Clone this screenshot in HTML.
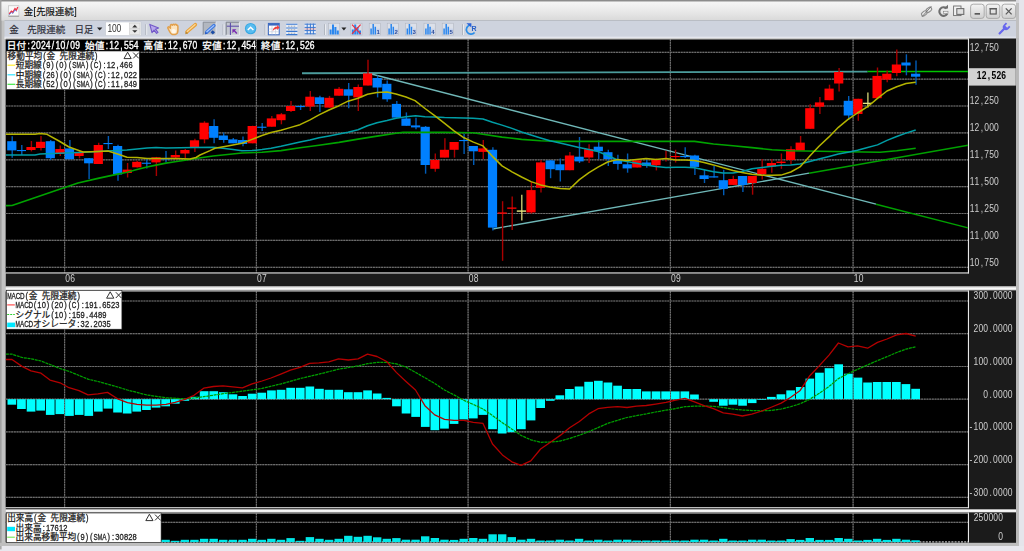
<!DOCTYPE html>
<html><head><meta charset="utf-8"><title>chart</title>
<style>html,body{margin:0;padding:0;background:#e5e5eb;overflow:hidden}svg{display:block}text{font-family:"Liberation Sans","Noto Sans CJK JP",sans-serif}</style>
</head><body>
<svg width="1024" height="551" viewBox="0 0 1024 551">
<defs>
<filter id="fx" x="0" y="0" width="1024" height="551" filterUnits="userSpaceOnUse"><feOffset dx="0" dy="0"/></filter>
<linearGradient id="gt" x1="0" y1="0" x2="0" y2="1"><stop offset="0" stop-color="#f6f6f6"/><stop offset="0.5" stop-color="#e9e9e9"/><stop offset="1" stop-color="#d9d9d9"/></linearGradient>
<linearGradient id="gb" x1="0" y1="0" x2="0" y2="1"><stop offset="0" stop-color="#f4f4f4"/><stop offset="1" stop-color="#cfcfcf"/></linearGradient>
<linearGradient id="gs" x1="0" y1="0" x2="0" y2="1"><stop offset="0" stop-color="#a8a8a8"/><stop offset="0.45" stop-color="#ffffff"/><stop offset="1" stop-color="#c8c8c8"/></linearGradient>
<linearGradient id="gs2" x1="0" y1="0" x2="0" y2="1"><stop offset="0" stop-color="#e0e0e0"/><stop offset="0.5" stop-color="#ffffff"/><stop offset="1" stop-color="#d0d0d0"/></linearGradient>
</defs>
<rect x="0" y="0" width="1024" height="551" fill="#e5e5eb"/>
<rect x="0" y="0" width="1019" height="546.5" fill="#c2c2c2"/>
<rect x="0" y="0" width="1019" height="1.6" fill="#8c8c8c"/>
<rect x="0" y="0" width="1.6" height="546" fill="#a0a0a0"/>
<rect x="1016" y="0" width="3" height="4" fill="#dcdce0"/><rect x="1016" y="3" width="3" height="543" fill="#c0c0c0"/><rect x="1016" y="38" width="2.8" height="505" fill="#b8b8b8"/>
<rect x="0" y="542.8" width="1019" height="3.2" fill="#bebebe"/>
<rect x="0" y="546" width="1024" height="5" fill="#e8e8ee"/>
<rect x="0" y="546" width="1.6" height="3.4" fill="#a8a8a8"/>
<rect x="1.5" y="1.6" width="1014.5" height="19" fill="url(#gt)"/>
<rect x="4.5" y="20.4" width="1011.5" height="17.8" fill="#ced3de"/>
<rect x="4.5" y="20.2" width="1011.5" height="0.8" fill="#b4b8c0"/>
<rect x="4.5" y="36.6" width="1011.5" height="1.2" fill="#e4e7ee"/>
<rect x="4.5" y="37.8" width="964" height="1.2" fill="#f4f4f4"/>
<rect x="5.8" y="38.6" width="1010.2" height="247.8" fill="#1b1b1b"/>
<rect x="5.8" y="39.3" width="962.7" height="233.5" fill="#000"/>
<rect x="5.8" y="286.2" width="1010.2" height="4.4" fill="url(#gs)"/>
<rect x="5.8" y="290.4" width="1010.2" height="219.2" fill="#1b1b1b"/>
<rect x="5.8" y="291.3" width="962.7" height="216.4" fill="#000"/>
<rect x="5.8" y="509.4" width="1010.2" height="3.2" fill="url(#gs2)"/>
<rect x="5.8" y="512.4" width="1010.2" height="30.4" fill="#1b1b1b"/>
<rect x="5.8" y="513.4" width="962.7" height="28.6" fill="#000"/>
<line x1="5.8" x2="968" y1="52.3" y2="52.3" stroke="#2c2c2c" stroke-width="1.1"/>
<line x1="5.8" x2="968" y1="52.3" y2="52.3" stroke="#6c6c6c" stroke-width="1.2" stroke-dasharray="1.9 0.8"/>
<line x1="5.8" x2="968" y1="79.2" y2="79.2" stroke="#2c2c2c" stroke-width="1.1"/>
<line x1="5.8" x2="968" y1="79.2" y2="79.2" stroke="#6c6c6c" stroke-width="1.2" stroke-dasharray="1.9 0.8"/>
<line x1="5.8" x2="968" y1="106.0" y2="106.0" stroke="#2c2c2c" stroke-width="1.1"/>
<line x1="5.8" x2="968" y1="106.0" y2="106.0" stroke="#6c6c6c" stroke-width="1.2" stroke-dasharray="1.9 0.8"/>
<line x1="5.8" x2="968" y1="132.9" y2="132.9" stroke="#2c2c2c" stroke-width="1.1"/>
<line x1="5.8" x2="968" y1="132.9" y2="132.9" stroke="#6c6c6c" stroke-width="1.2" stroke-dasharray="1.9 0.8"/>
<line x1="5.8" x2="968" y1="159.8" y2="159.8" stroke="#2c2c2c" stroke-width="1.1"/>
<line x1="5.8" x2="968" y1="159.8" y2="159.8" stroke="#6c6c6c" stroke-width="1.2" stroke-dasharray="1.9 0.8"/>
<line x1="5.8" x2="968" y1="186.6" y2="186.6" stroke="#2c2c2c" stroke-width="1.1"/>
<line x1="5.8" x2="968" y1="186.6" y2="186.6" stroke="#6c6c6c" stroke-width="1.2" stroke-dasharray="1.9 0.8"/>
<line x1="5.8" x2="968" y1="213.5" y2="213.5" stroke="#2c2c2c" stroke-width="1.1"/>
<line x1="5.8" x2="968" y1="213.5" y2="213.5" stroke="#6c6c6c" stroke-width="1.2" stroke-dasharray="1.9 0.8"/>
<line x1="5.8" x2="968" y1="240.4" y2="240.4" stroke="#2c2c2c" stroke-width="1.1"/>
<line x1="5.8" x2="968" y1="240.4" y2="240.4" stroke="#6c6c6c" stroke-width="1.2" stroke-dasharray="1.9 0.8"/>
<line x1="5.8" x2="968" y1="267.3" y2="267.3" stroke="#2c2c2c" stroke-width="1.1"/>
<line x1="5.8" x2="968" y1="267.3" y2="267.3" stroke="#6c6c6c" stroke-width="1.2" stroke-dasharray="1.9 0.8"/>
<line x1="64.6" x2="64.6" y1="39.5" y2="272.5" stroke="#2c2c2c" stroke-width="1.1"/>
<line x1="64.6" x2="64.6" y1="39.5" y2="272.5" stroke="#6c6c6c" stroke-width="1.2" stroke-dasharray="1.8 0.7"/>
<line x1="64.6" x2="64.6" y1="291.5" y2="507.5" stroke="#2c2c2c" stroke-width="1.1"/>
<line x1="64.6" x2="64.6" y1="291.5" y2="507.5" stroke="#6c6c6c" stroke-width="1.2" stroke-dasharray="1.8 0.7"/>
<line x1="64.6" x2="64.6" y1="513.5" y2="542.0" stroke="#2c2c2c" stroke-width="1.1"/>
<line x1="64.6" x2="64.6" y1="513.5" y2="542.0" stroke="#6c6c6c" stroke-width="1.2" stroke-dasharray="1.8 0.7"/>
<line x1="256.4" x2="256.4" y1="39.5" y2="272.5" stroke="#2c2c2c" stroke-width="1.1"/>
<line x1="256.4" x2="256.4" y1="39.5" y2="272.5" stroke="#6c6c6c" stroke-width="1.2" stroke-dasharray="1.8 0.7"/>
<line x1="256.4" x2="256.4" y1="291.5" y2="507.5" stroke="#2c2c2c" stroke-width="1.1"/>
<line x1="256.4" x2="256.4" y1="291.5" y2="507.5" stroke="#6c6c6c" stroke-width="1.2" stroke-dasharray="1.8 0.7"/>
<line x1="256.4" x2="256.4" y1="513.5" y2="542.0" stroke="#2c2c2c" stroke-width="1.1"/>
<line x1="256.4" x2="256.4" y1="513.5" y2="542.0" stroke="#6c6c6c" stroke-width="1.2" stroke-dasharray="1.8 0.7"/>
<line x1="468.1" x2="468.1" y1="39.5" y2="272.5" stroke="#2c2c2c" stroke-width="1.1"/>
<line x1="468.1" x2="468.1" y1="39.5" y2="272.5" stroke="#6c6c6c" stroke-width="1.2" stroke-dasharray="1.8 0.7"/>
<line x1="468.1" x2="468.1" y1="291.5" y2="507.5" stroke="#2c2c2c" stroke-width="1.1"/>
<line x1="468.1" x2="468.1" y1="291.5" y2="507.5" stroke="#6c6c6c" stroke-width="1.2" stroke-dasharray="1.8 0.7"/>
<line x1="468.1" x2="468.1" y1="513.5" y2="542.0" stroke="#2c2c2c" stroke-width="1.1"/>
<line x1="468.1" x2="468.1" y1="513.5" y2="542.0" stroke="#6c6c6c" stroke-width="1.2" stroke-dasharray="1.8 0.7"/>
<line x1="670.4" x2="670.4" y1="39.5" y2="272.5" stroke="#2c2c2c" stroke-width="1.1"/>
<line x1="670.4" x2="670.4" y1="39.5" y2="272.5" stroke="#6c6c6c" stroke-width="1.2" stroke-dasharray="1.8 0.7"/>
<line x1="670.4" x2="670.4" y1="291.5" y2="507.5" stroke="#2c2c2c" stroke-width="1.1"/>
<line x1="670.4" x2="670.4" y1="291.5" y2="507.5" stroke="#6c6c6c" stroke-width="1.2" stroke-dasharray="1.8 0.7"/>
<line x1="670.4" x2="670.4" y1="513.5" y2="542.0" stroke="#2c2c2c" stroke-width="1.1"/>
<line x1="670.4" x2="670.4" y1="513.5" y2="542.0" stroke="#6c6c6c" stroke-width="1.2" stroke-dasharray="1.8 0.7"/>
<line x1="853.1" x2="853.1" y1="39.5" y2="272.5" stroke="#2c2c2c" stroke-width="1.1"/>
<line x1="853.1" x2="853.1" y1="39.5" y2="272.5" stroke="#6c6c6c" stroke-width="1.2" stroke-dasharray="1.8 0.7"/>
<line x1="853.1" x2="853.1" y1="291.5" y2="507.5" stroke="#2c2c2c" stroke-width="1.1"/>
<line x1="853.1" x2="853.1" y1="291.5" y2="507.5" stroke="#6c6c6c" stroke-width="1.2" stroke-dasharray="1.8 0.7"/>
<line x1="853.1" x2="853.1" y1="513.5" y2="542.0" stroke="#2c2c2c" stroke-width="1.1"/>
<line x1="853.1" x2="853.1" y1="513.5" y2="542.0" stroke="#6c6c6c" stroke-width="1.2" stroke-dasharray="1.8 0.7"/>
<line x1="5.8" x2="968" y1="301.0" y2="301.0" stroke="#2c2c2c" stroke-width="1.1"/>
<line x1="5.8" x2="968" y1="301.0" y2="301.0" stroke="#6c6c6c" stroke-width="1.2" stroke-dasharray="1.9 0.8"/>
<line x1="5.8" x2="968" y1="333.7" y2="333.7" stroke="#2c2c2c" stroke-width="1.1"/>
<line x1="5.8" x2="968" y1="333.7" y2="333.7" stroke="#6c6c6c" stroke-width="1.2" stroke-dasharray="1.9 0.8"/>
<line x1="5.8" x2="968" y1="366.5" y2="366.5" stroke="#2c2c2c" stroke-width="1.1"/>
<line x1="5.8" x2="968" y1="366.5" y2="366.5" stroke="#6c6c6c" stroke-width="1.2" stroke-dasharray="1.9 0.8"/>
<line x1="5.8" x2="968" y1="399.2" y2="399.2" stroke="#2c2c2c" stroke-width="1.1"/>
<line x1="5.8" x2="968" y1="399.2" y2="399.2" stroke="#6c6c6c" stroke-width="1.2" stroke-dasharray="1.9 0.8"/>
<line x1="5.8" x2="968" y1="431.9" y2="431.9" stroke="#2c2c2c" stroke-width="1.1"/>
<line x1="5.8" x2="968" y1="431.9" y2="431.9" stroke="#6c6c6c" stroke-width="1.2" stroke-dasharray="1.9 0.8"/>
<line x1="5.8" x2="968" y1="464.6" y2="464.6" stroke="#2c2c2c" stroke-width="1.1"/>
<line x1="5.8" x2="968" y1="464.6" y2="464.6" stroke="#6c6c6c" stroke-width="1.2" stroke-dasharray="1.9 0.8"/>
<line x1="5.8" x2="968" y1="497.4" y2="497.4" stroke="#2c2c2c" stroke-width="1.1"/>
<line x1="5.8" x2="968" y1="497.4" y2="497.4" stroke="#6c6c6c" stroke-width="1.2" stroke-dasharray="1.9 0.8"/>
<line x1="5.8" x2="968" y1="522.4" y2="522.4" stroke="#2c2c2c" stroke-width="1.1"/>
<line x1="5.8" x2="968" y1="522.4" y2="522.4" stroke="#6c6c6c" stroke-width="1.2" stroke-dasharray="1.9 0.8"/>
<rect x="5.5" y="38.4" width="963.5" height="1" fill="#e8e8e8"/>
<rect x="967.9" y="38.4" width="1.1" height="235" fill="#e8e8e8"/>
<rect x="5.5" y="272.4" width="963.5" height="1.1" fill="#e8e8e8"/>
<rect x="5.5" y="290.5" width="963.5" height="1" fill="#d0d0d0"/>
<rect x="967.9" y="290.5" width="1.1" height="217.6" fill="#e8e8e8"/>
<rect x="5.5" y="507.2" width="963.5" height="1" fill="#e8e8e8"/>
<rect x="967.9" y="512.6" width="1.1" height="30" fill="#e8e8e8"/>
<rect x="5.5" y="512.6" width="963.5" height="0.9" fill="#d0d0d0"/>
<line x1="161" x2="968" y1="541.9" y2="541.9" stroke="#e0e0e0" stroke-width="1" stroke-dasharray="2 1.2"/>
<line x1="302" x2="867.6" y1="73.2" y2="71.6" stroke="#4c9c9c" stroke-width="1.9"/>
<line x1="867.6" x2="968" y1="71.5" y2="71.5" stroke="#00c400" stroke-width="1.5"/>
<line x1="367.5" y1="73" x2="876" y2="204.2" stroke="#70b8b8" stroke-width="1.3"/>
<line x1="876" y1="204.2" x2="968" y2="227.9" stroke="#00a000" stroke-width="1.4"/>
<line x1="492.5" y1="229" x2="809" y2="173.2" stroke="#70b8b8" stroke-width="1.3"/>
<line x1="809" y1="173.2" x2="968" y2="145.2" stroke="#00a000" stroke-width="1.4"/>
<line x1="12.2" x2="12.2" y1="136.3" y2="157.8" stroke="#005cb8" stroke-width="1.4"/>
<rect x="7.2" y="141.2" width="9.2" height="9.2" fill="#0080ff"/>
<line x1="21.8" x2="21.8" y1="145.0" y2="155.0" stroke="#005cb8" stroke-width="1.4"/>
<rect x="16.8" y="150.0" width="9.2" height="1.1" fill="#0080ff"/>
<line x1="31.4" x2="31.4" y1="141.0" y2="151.4" stroke="#a80000" stroke-width="1.4"/>
<rect x="26.4" y="147.0" width="9.2" height="3.0" fill="#ff0000"/>
<line x1="41.0" x2="41.0" y1="135.9" y2="150.6" stroke="#a80000" stroke-width="1.4"/>
<rect x="36.0" y="141.8" width="9.2" height="6.2" fill="#ff0000"/>
<line x1="50.7" x2="50.7" y1="140.0" y2="160.0" stroke="#005cb8" stroke-width="1.4"/>
<rect x="45.7" y="141.2" width="9.2" height="17.0" fill="#0080ff"/>
<line x1="60.3" x2="60.3" y1="145.5" y2="156.0" stroke="#a80000" stroke-width="1.4"/>
<rect x="55.3" y="149.0" width="9.2" height="5.0" fill="#ff0000"/>
<line x1="69.9" x2="69.9" y1="140.0" y2="159.2" stroke="#005cb8" stroke-width="1.4"/>
<rect x="64.9" y="148.4" width="9.2" height="10.8" fill="#0080ff"/>
<line x1="79.5" x2="79.5" y1="150.0" y2="158.4" stroke="#a80000" stroke-width="1.4"/>
<rect x="74.5" y="152.5" width="9.2" height="3.5" fill="#ff0000"/>
<line x1="89.1" x2="89.1" y1="158.0" y2="179.0" stroke="#005cb8" stroke-width="1.4"/>
<rect x="84.1" y="158.2" width="9.2" height="5.1" fill="#0080ff"/>
<line x1="98.7" x2="98.7" y1="142.7" y2="164.0" stroke="#a80000" stroke-width="1.4"/>
<rect x="93.7" y="145.0" width="9.2" height="19.0" fill="#ff0000"/>
<line x1="108.4" x2="108.4" y1="136.0" y2="149.0" stroke="#005cb8" stroke-width="1.4"/>
<rect x="103.4" y="143.0" width="9.2" height="1.1" fill="#0080ff"/>
<line x1="118.0" x2="118.0" y1="144.7" y2="180.8" stroke="#005cb8" stroke-width="1.4"/>
<rect x="113.0" y="146.0" width="9.2" height="28.5" fill="#0080ff"/>
<line x1="127.6" x2="127.6" y1="163.0" y2="177.5" stroke="#a80000" stroke-width="1.4"/>
<rect x="122.6" y="169.6" width="9.2" height="3.4" fill="#ff0000"/>
<line x1="137.2" x2="137.2" y1="160.8" y2="167.6" stroke="#a80000" stroke-width="1.4"/>
<rect x="132.2" y="161.8" width="9.2" height="5.5" fill="#ff0000"/>
<line x1="146.8" x2="146.8" y1="158.4" y2="168.6" stroke="#005cb8" stroke-width="1.4"/>
<rect x="141.8" y="162.7" width="9.2" height="1.1" fill="#0080ff"/>
<line x1="156.4" x2="156.4" y1="156.9" y2="176.0" stroke="#a80000" stroke-width="1.4"/>
<rect x="151.4" y="157.3" width="9.2" height="5.1" fill="#ff0000"/>
<line x1="166.0" x2="166.0" y1="151.0" y2="162.4" stroke="#005cb8" stroke-width="1.4"/>
<rect x="161.0" y="158.4" width="9.2" height="1.1" fill="#0080ff"/>
<line x1="175.7" x2="175.7" y1="150.6" y2="159.8" stroke="#a80000" stroke-width="1.4"/>
<rect x="170.7" y="155.0" width="9.2" height="2.5" fill="#ff0000"/>
<line x1="185.3" x2="185.3" y1="149.0" y2="158.8" stroke="#a80000" stroke-width="1.4"/>
<rect x="180.3" y="150.0" width="9.2" height="3.5" fill="#ff0000"/>
<line x1="194.9" x2="194.9" y1="138.8" y2="152.0" stroke="#a80000" stroke-width="1.4"/>
<rect x="189.9" y="140.3" width="9.2" height="7.7" fill="#ff0000"/>
<line x1="204.5" x2="204.5" y1="121.2" y2="143.3" stroke="#a80000" stroke-width="1.4"/>
<rect x="199.5" y="122.7" width="9.2" height="16.7" fill="#ff0000"/>
<line x1="214.1" x2="214.1" y1="119.2" y2="143.3" stroke="#005cb8" stroke-width="1.4"/>
<rect x="209.1" y="126.0" width="9.2" height="11.8" fill="#0080ff"/>
<line x1="223.7" x2="223.7" y1="132.5" y2="142.7" stroke="#005cb8" stroke-width="1.4"/>
<rect x="218.7" y="135.5" width="9.2" height="4.5" fill="#0080ff"/>
<line x1="233.3" x2="233.3" y1="138.0" y2="143.3" stroke="#005cb8" stroke-width="1.4"/>
<rect x="228.3" y="139.4" width="9.2" height="3.9" fill="#0080ff"/>
<line x1="243.0" x2="243.0" y1="136.5" y2="146.3" stroke="#005cb8" stroke-width="1.4"/>
<rect x="238.0" y="140.0" width="9.2" height="4.0" fill="#0080ff"/>
<line x1="252.6" x2="252.6" y1="125.7" y2="143.3" stroke="#a80000" stroke-width="1.4"/>
<rect x="247.6" y="126.0" width="9.2" height="17.3" fill="#ff0000"/>
<line x1="262.2" x2="262.2" y1="123.0" y2="131.0" stroke="#005cb8" stroke-width="1.4"/>
<rect x="257.2" y="126.7" width="9.2" height="1.1" fill="#0080ff"/>
<line x1="271.8" x2="271.8" y1="115.9" y2="126.7" stroke="#a80000" stroke-width="1.4"/>
<rect x="266.8" y="118.4" width="9.2" height="8.3" fill="#ff0000"/>
<line x1="281.4" x2="281.4" y1="113.0" y2="124.3" stroke="#a80000" stroke-width="1.4"/>
<rect x="276.4" y="114.3" width="9.2" height="5.9" fill="#ff0000"/>
<line x1="291.0" x2="291.0" y1="101.0" y2="112.0" stroke="#a80000" stroke-width="1.4"/>
<rect x="286.0" y="106.0" width="9.2" height="5.0" fill="#ff0000"/>
<line x1="300.6" x2="300.6" y1="104.7" y2="110.0" stroke="#005cb8" stroke-width="1.4"/>
<rect x="295.6" y="106.0" width="9.2" height="1.1" fill="#0080ff"/>
<line x1="310.3" x2="310.3" y1="91.0" y2="111.0" stroke="#a80000" stroke-width="1.4"/>
<rect x="305.3" y="96.7" width="9.2" height="9.8" fill="#ff0000"/>
<line x1="319.9" x2="319.9" y1="95.7" y2="112.0" stroke="#005cb8" stroke-width="1.4"/>
<rect x="314.9" y="97.3" width="9.2" height="6.7" fill="#0080ff"/>
<line x1="329.5" x2="329.5" y1="95.9" y2="107.6" stroke="#a80000" stroke-width="1.4"/>
<rect x="324.5" y="97.8" width="9.2" height="9.8" fill="#ff0000"/>
<line x1="339.1" x2="339.1" y1="87.0" y2="95.7" stroke="#a80000" stroke-width="1.4"/>
<rect x="334.1" y="88.8" width="9.2" height="6.9" fill="#ff0000"/>
<line x1="348.7" x2="348.7" y1="83.0" y2="108.3" stroke="#005cb8" stroke-width="1.4"/>
<rect x="343.7" y="89.3" width="9.2" height="6.4" fill="#0080ff"/>
<line x1="358.3" x2="358.3" y1="84.4" y2="110.9" stroke="#a80000" stroke-width="1.4"/>
<rect x="353.3" y="87.0" width="9.2" height="10.4" fill="#ff0000"/>
<line x1="368.0" x2="368.0" y1="59.8" y2="85.6" stroke="#a80000" stroke-width="1.4"/>
<rect x="363.0" y="73.4" width="9.2" height="12.1" fill="#ff0000"/>
<line x1="377.6" x2="377.6" y1="75.5" y2="97.4" stroke="#005cb8" stroke-width="1.4"/>
<rect x="372.6" y="78.0" width="9.2" height="9.5" fill="#0080ff"/>
<line x1="387.2" x2="387.2" y1="80.5" y2="101.8" stroke="#005cb8" stroke-width="1.4"/>
<rect x="382.2" y="83.8" width="9.2" height="15.5" fill="#0080ff"/>
<line x1="396.8" x2="396.8" y1="101.0" y2="117.6" stroke="#005cb8" stroke-width="1.4"/>
<rect x="391.8" y="103.9" width="9.2" height="13.7" fill="#0080ff"/>
<line x1="406.4" x2="406.4" y1="112.4" y2="125.8" stroke="#005cb8" stroke-width="1.4"/>
<rect x="401.4" y="118.5" width="9.2" height="7.3" fill="#0080ff"/>
<line x1="416.0" x2="416.0" y1="117.7" y2="129.3" stroke="#005cb8" stroke-width="1.4"/>
<rect x="411.0" y="125.4" width="9.2" height="2.0" fill="#0080ff"/>
<line x1="425.6" x2="425.6" y1="126.0" y2="173.7" stroke="#005cb8" stroke-width="1.4"/>
<rect x="420.6" y="126.8" width="9.2" height="38.2" fill="#0080ff"/>
<line x1="435.3" x2="435.3" y1="153.5" y2="171.8" stroke="#a80000" stroke-width="1.4"/>
<rect x="430.3" y="160.0" width="9.2" height="8.8" fill="#ff0000"/>
<line x1="444.9" x2="444.9" y1="138.3" y2="157.6" stroke="#a80000" stroke-width="1.4"/>
<rect x="439.9" y="149.8" width="9.2" height="7.8" fill="#ff0000"/>
<line x1="454.5" x2="454.5" y1="142.0" y2="157.6" stroke="#a80000" stroke-width="1.4"/>
<rect x="449.5" y="142.0" width="9.2" height="7.8" fill="#ff0000"/>
<line x1="464.1" x2="464.1" y1="134.0" y2="154.0" stroke="#005cb8" stroke-width="1.4"/>
<rect x="459.1" y="140.0" width="9.2" height="1.1" fill="#0080ff"/>
<line x1="473.7" x2="473.7" y1="146.0" y2="165.0" stroke="#005cb8" stroke-width="1.4"/>
<rect x="468.7" y="146.0" width="9.2" height="5.3" fill="#0080ff"/>
<line x1="483.3" x2="483.3" y1="139.9" y2="159.0" stroke="#a80000" stroke-width="1.4"/>
<rect x="478.3" y="148.4" width="9.2" height="3.5" fill="#ff0000"/>
<line x1="492.9" x2="492.9" y1="147.3" y2="230.6" stroke="#005cb8" stroke-width="1.4"/>
<rect x="487.9" y="149.8" width="9.2" height="77.8" fill="#0080ff"/>
<line x1="502.6" x2="502.6" y1="201.2" y2="260.8" stroke="#a80000" stroke-width="1.4"/>
<rect x="497.6" y="212.4" width="9.2" height="1.3" fill="#ff0000"/>
<line x1="512.2" x2="512.2" y1="196.5" y2="230.0" stroke="#a80000" stroke-width="1.4"/>
<rect x="507.2" y="207.5" width="9.2" height="1.3" fill="#ff0000"/>
<line x1="521.8" x2="521.8" y1="194.7" y2="220.6" stroke="#c8c870" stroke-width="1.4"/>
<rect x="516.8" y="210.4" width="9.2" height="1.4" fill="#e6e682"/>
<line x1="531.4" x2="531.4" y1="181.6" y2="213.6" stroke="#a80000" stroke-width="1.4"/>
<rect x="526.4" y="190.1" width="9.2" height="22.3" fill="#ff0000"/>
<line x1="541.0" x2="541.0" y1="160.0" y2="192.4" stroke="#a80000" stroke-width="1.4"/>
<rect x="536.0" y="162.4" width="9.2" height="25.4" fill="#ff0000"/>
<line x1="550.6" x2="550.6" y1="160.0" y2="178.2" stroke="#005cb8" stroke-width="1.4"/>
<rect x="545.6" y="160.4" width="9.2" height="8.8" fill="#0080ff"/>
<line x1="560.3" x2="560.3" y1="158.6" y2="181.6" stroke="#005cb8" stroke-width="1.4"/>
<rect x="555.3" y="164.3" width="9.2" height="5.9" fill="#0080ff"/>
<line x1="569.9" x2="569.9" y1="152.0" y2="170.2" stroke="#a80000" stroke-width="1.4"/>
<rect x="564.9" y="155.5" width="9.2" height="14.7" fill="#ff0000"/>
<line x1="579.5" x2="579.5" y1="137.0" y2="163.0" stroke="#005cb8" stroke-width="1.4"/>
<rect x="574.5" y="156.7" width="9.2" height="4.7" fill="#0080ff"/>
<line x1="589.1" x2="589.1" y1="144.3" y2="163.0" stroke="#a80000" stroke-width="1.4"/>
<rect x="584.1" y="149.2" width="9.2" height="8.3" fill="#ff0000"/>
<line x1="598.7" x2="598.7" y1="140.4" y2="159.0" stroke="#005cb8" stroke-width="1.4"/>
<rect x="593.7" y="146.7" width="9.2" height="4.5" fill="#0080ff"/>
<line x1="608.3" x2="608.3" y1="149.8" y2="165.9" stroke="#005cb8" stroke-width="1.4"/>
<rect x="603.3" y="152.2" width="9.2" height="6.8" fill="#0080ff"/>
<line x1="617.9" x2="617.9" y1="154.7" y2="169.8" stroke="#005cb8" stroke-width="1.4"/>
<rect x="612.9" y="160.0" width="9.2" height="3.9" fill="#0080ff"/>
<line x1="627.6" x2="627.6" y1="153.5" y2="172.7" stroke="#005cb8" stroke-width="1.4"/>
<rect x="622.6" y="164.3" width="9.2" height="4.1" fill="#0080ff"/>
<line x1="637.2" x2="637.2" y1="160.4" y2="167.5" stroke="#a80000" stroke-width="1.4"/>
<rect x="632.2" y="160.4" width="9.2" height="7.1" fill="#ff0000"/>
<line x1="646.8" x2="646.8" y1="160.0" y2="167.8" stroke="#005cb8" stroke-width="1.4"/>
<rect x="641.8" y="162.5" width="9.2" height="3.4" fill="#0080ff"/>
<line x1="656.4" x2="656.4" y1="158.6" y2="170.4" stroke="#a80000" stroke-width="1.4"/>
<rect x="651.4" y="160.0" width="9.2" height="5.3" fill="#ff0000"/>
<line x1="666.0" x2="666.0" y1="150.8" y2="161.4" stroke="#a80000" stroke-width="1.4"/>
<line x1="675.6" x2="675.6" y1="149.8" y2="162.5" stroke="#a80000" stroke-width="1.4"/>
<rect x="670.6" y="156.0" width="9.2" height="1.1" fill="#ff0000"/>
<line x1="685.2" x2="685.2" y1="147.3" y2="158.0" stroke="#005cb8" stroke-width="1.4"/>
<rect x="680.2" y="156.0" width="9.2" height="1.1" fill="#0080ff"/>
<line x1="694.9" x2="694.9" y1="154.7" y2="175.0" stroke="#005cb8" stroke-width="1.4"/>
<rect x="689.9" y="155.5" width="9.2" height="11.4" fill="#0080ff"/>
<line x1="704.5" x2="704.5" y1="169.8" y2="183.0" stroke="#005cb8" stroke-width="1.4"/>
<rect x="699.5" y="175.3" width="9.2" height="3.7" fill="#0080ff"/>
<line x1="714.1" x2="714.1" y1="165.9" y2="177.6" stroke="#005cb8" stroke-width="1.4"/>
<rect x="709.1" y="176.3" width="9.2" height="1.2" fill="#0080ff"/>
<line x1="723.7" x2="723.7" y1="169.8" y2="195.3" stroke="#005cb8" stroke-width="1.4"/>
<rect x="718.7" y="180.2" width="9.2" height="8.6" fill="#0080ff"/>
<line x1="733.3" x2="733.3" y1="175.7" y2="184.9" stroke="#a80000" stroke-width="1.4"/>
<rect x="728.3" y="179.0" width="9.2" height="5.9" fill="#ff0000"/>
<line x1="742.9" x2="742.9" y1="176.0" y2="192.0" stroke="#005cb8" stroke-width="1.4"/>
<rect x="737.9" y="176.0" width="9.2" height="9.0" fill="#0080ff"/>
<line x1="752.6" x2="752.6" y1="176.0" y2="194.7" stroke="#a80000" stroke-width="1.4"/>
<rect x="747.6" y="176.0" width="9.2" height="7.0" fill="#ff0000"/>
<line x1="762.2" x2="762.2" y1="159.0" y2="179.6" stroke="#a80000" stroke-width="1.4"/>
<rect x="757.2" y="168.8" width="9.2" height="5.5" fill="#ff0000"/>
<line x1="771.8" x2="771.8" y1="159.0" y2="172.7" stroke="#a80000" stroke-width="1.4"/>
<rect x="766.8" y="163.0" width="9.2" height="3.5" fill="#ff0000"/>
<line x1="781.4" x2="781.4" y1="153.5" y2="168.8" stroke="#a80000" stroke-width="1.4"/>
<rect x="776.4" y="161.6" width="9.2" height="1.4" fill="#ff0000"/>
<line x1="791.0" x2="791.0" y1="146.3" y2="164.5" stroke="#a80000" stroke-width="1.4"/>
<rect x="786.0" y="149.2" width="9.2" height="10.8" fill="#ff0000"/>
<line x1="800.6" x2="800.6" y1="136.0" y2="150.6" stroke="#a80000" stroke-width="1.4"/>
<rect x="795.6" y="142.6" width="9.2" height="8.0" fill="#ff0000"/>
<line x1="810.2" x2="810.2" y1="104.3" y2="128.8" stroke="#a80000" stroke-width="1.4"/>
<rect x="805.2" y="108.2" width="9.2" height="20.6" fill="#ff0000"/>
<line x1="819.9" x2="819.9" y1="96.9" y2="114.0" stroke="#a80000" stroke-width="1.4"/>
<rect x="814.9" y="102.4" width="9.2" height="4.3" fill="#ff0000"/>
<line x1="829.5" x2="829.5" y1="84.7" y2="100.2" stroke="#a80000" stroke-width="1.4"/>
<rect x="824.5" y="88.6" width="9.2" height="11.6" fill="#ff0000"/>
<line x1="839.1" x2="839.1" y1="68.0" y2="91.6" stroke="#a80000" stroke-width="1.4"/>
<rect x="834.1" y="72.0" width="9.2" height="11.5" fill="#ff0000"/>
<line x1="848.7" x2="848.7" y1="95.9" y2="120.0" stroke="#005cb8" stroke-width="1.4"/>
<rect x="843.7" y="100.8" width="9.2" height="14.7" fill="#0080ff"/>
<line x1="858.3" x2="858.3" y1="98.8" y2="120.8" stroke="#a80000" stroke-width="1.4"/>
<rect x="853.3" y="98.8" width="9.2" height="15.2" fill="#ff0000"/>
<line x1="867.9" x2="867.9" y1="92.5" y2="107.6" stroke="#c8c870" stroke-width="1.4"/>
<rect x="862.9" y="102.7" width="9.2" height="1.3" fill="#e6e682"/>
<line x1="877.5" x2="877.5" y1="67.5" y2="98.2" stroke="#a80000" stroke-width="1.4"/>
<rect x="872.5" y="75.9" width="9.2" height="22.3" fill="#ff0000"/>
<line x1="887.2" x2="887.2" y1="70.4" y2="82.2" stroke="#a80000" stroke-width="1.4"/>
<rect x="882.2" y="73.7" width="9.2" height="5.9" fill="#ff0000"/>
<line x1="896.8" x2="896.8" y1="49.4" y2="76.3" stroke="#a80000" stroke-width="1.4"/>
<rect x="891.8" y="64.5" width="9.2" height="8.5" fill="#ff0000"/>
<line x1="906.4" x2="906.4" y1="54.3" y2="75.3" stroke="#005cb8" stroke-width="1.4"/>
<rect x="901.4" y="62.5" width="9.2" height="3.0" fill="#0080ff"/>
<line x1="916.0" x2="916.0" y1="60.6" y2="84.7" stroke="#005cb8" stroke-width="1.4"/>
<rect x="911.0" y="73.7" width="9.2" height="3.0" fill="#0080ff"/>
<polyline fill="none" stroke="#00a400" stroke-width="1.6" stroke-linejoin="round" points="5.9,205.6 12.0,205.5 64.7,187.5 78.0,183.0 98.0,178.4 117.6,174.1 127.0,172.2 137.0,169.6 147.0,167.0 156.0,165.1 166.0,163.1 175.0,161.8 185.0,160.2 194.0,158.8 213.0,156.0 242.0,153.0 262.0,152.2 281.0,150.6 300.0,147.8 319.0,145.3 339.0,142.4 358.0,139.1 377.0,136.1 396.0,133.3 403.0,132.4 425.0,132.4 444.0,132.4 473.0,132.8 483.0,134.2 502.0,137.1 521.6,139.4 540.6,140.8 560.0,141.4 579.0,141.4 598.0,141.4 694.5,141.4 713.5,144.0 733.0,145.7 752.0,147.6 772.0,149.8 790.0,150.7 848.0,151.8 880.0,152.2 896.7,150.8 915.7,148.2" />
<polyline fill="none" stroke="#009ea6" stroke-width="1.5" stroke-linejoin="round" points="5.9,154.9 35.0,154.9 40.0,153.9 59.0,153.3 78.0,152.5 98.0,151.6 117.0,150.6 127.0,150.0 137.0,149.0 147.0,148.0 156.0,147.5 166.0,148.0 194.0,147.4 213.0,147.3 223.0,148.2 233.0,149.6 242.0,150.8 252.0,150.6 262.0,149.6 271.0,148.2 281.0,146.3 290.0,144.3 300.0,142.0 310.0,140.0 319.0,137.8 329.0,135.9 339.0,133.9 348.0,132.2 358.0,129.8 367.5,125.8 377.0,122.8 387.0,120.5 396.0,118.2 406.0,116.7 415.5,115.7 425.0,116.7 435.0,117.0 444.5,117.6 464.0,118.0 473.0,118.2 483.0,119.0 492.5,122.2 502.0,125.1 512.0,128.4 521.6,132.0 531.0,135.0 540.6,138.0 550.0,140.8 560.0,143.0 569.6,145.3 579.0,147.6 589.0,149.5 598.0,151.5 607.6,155.5 617.5,160.0 627.0,161.6 636.5,163.3 646.0,164.9 656.0,166.5 666.0,167.5 676.0,167.3 685.0,167.3 694.5,167.8 704.0,169.8 713.5,171.8 723.0,173.1 733.0,173.1 742.0,171.4 752.0,168.8 762.0,167.5 772.0,166.3 781.0,165.3 790.8,164.9 800.0,163.9 809.8,161.4 819.0,159.0 829.0,156.5 838.4,154.1 848.0,152.2 857.5,150.2 867.6,147.6 877.5,144.9 887.0,140.4 896.7,136.5 906.0,133.1 915.7,130.0" />
<polyline fill="none" stroke="#b4b400" stroke-width="1.5" stroke-linejoin="round" points="5.9,134.3 35.0,134.3 40.0,133.5 47.0,134.3 59.0,141.0 69.0,147.0 83.0,152.0 98.0,151.4 108.0,151.0 117.6,154.0 127.0,157.3 137.0,157.6 147.0,158.4 176.0,158.6 190.0,158.9 196.0,157.5 200.0,155.0 210.0,150.6 215.0,148.2 229.0,145.7 242.0,143.3 252.0,139.4 262.0,135.5 271.0,132.5 281.0,130.2 290.0,127.6 300.0,124.7 310.0,119.8 319.0,114.9 329.0,110.0 339.0,105.7 348.0,101.2 358.0,98.2 367.5,94.2 377.0,92.5 387.0,92.0 396.0,94.0 406.0,97.0 415.0,100.6 425.0,108.5 435.0,115.8 444.6,123.4 454.0,130.8 464.0,137.8 473.4,142.1 483.0,145.9 492.5,156.4 502.0,165.9 512.0,171.8 521.6,177.0 531.0,181.6 540.6,184.9 550.0,187.0 560.0,188.4 569.6,189.0 579.4,179.6 589.0,172.7 598.0,167.2 607.6,162.0 617.5,159.6 627.0,160.6 636.5,159.4 646.0,158.4 656.0,159.6 666.0,158.4 676.0,160.0 685.0,160.0 694.5,160.6 704.0,162.5 713.5,164.9 723.0,167.8 733.0,170.4 742.0,172.4 752.0,174.3 762.0,175.3 772.0,175.3 781.0,175.1 790.8,172.0 800.0,166.9 809.8,156.0 819.0,146.3 829.0,136.9 838.4,127.3 848.0,119.4 857.5,113.0 867.6,106.7 877.5,98.4 887.0,91.0 896.7,86.7 906.0,83.5 915.7,82.2" />
<rect x="7.5" y="399.2" width="8.7" height="5.5" fill="#00ffff"/>
<rect x="17.1" y="399.2" width="8.7" height="9.8" fill="#00ffff"/>
<rect x="26.7" y="399.2" width="8.7" height="12.4" fill="#00ffff"/>
<rect x="36.3" y="399.2" width="8.7" height="11.4" fill="#00ffff"/>
<rect x="45.9" y="399.2" width="8.7" height="15.7" fill="#00ffff"/>
<rect x="55.5" y="399.2" width="8.7" height="14.9" fill="#00ffff"/>
<rect x="65.1" y="399.2" width="8.7" height="16.7" fill="#00ffff"/>
<rect x="74.8" y="399.2" width="8.7" height="15.7" fill="#00ffff"/>
<rect x="84.4" y="399.2" width="8.7" height="16.7" fill="#00ffff"/>
<rect x="94.0" y="399.2" width="8.7" height="12.4" fill="#00ffff"/>
<rect x="103.6" y="399.2" width="8.7" height="9.4" fill="#00ffff"/>
<rect x="113.2" y="399.2" width="8.7" height="13.3" fill="#00ffff"/>
<rect x="122.8" y="399.2" width="8.7" height="14.3" fill="#00ffff"/>
<rect x="132.4" y="399.2" width="8.7" height="12.4" fill="#00ffff"/>
<rect x="142.1" y="399.2" width="8.7" height="10.8" fill="#00ffff"/>
<rect x="151.7" y="399.2" width="8.7" height="8.4" fill="#00ffff"/>
<rect x="161.3" y="399.2" width="8.7" height="7.1" fill="#00ffff"/>
<rect x="170.9" y="399.2" width="8.7" height="4.5" fill="#00ffff"/>
<rect x="180.5" y="399.2" width="8.7" height="1.6" fill="#00ffff"/>
<rect x="190.1" y="396.8" width="8.7" height="2.4" fill="#00ffff"/>
<rect x="199.8" y="391.2" width="8.7" height="8.0" fill="#00ffff"/>
<rect x="209.4" y="391.2" width="8.7" height="8.0" fill="#00ffff"/>
<rect x="219.0" y="392.2" width="8.7" height="7.0" fill="#00ffff"/>
<rect x="228.6" y="394.3" width="8.7" height="4.9" fill="#00ffff"/>
<rect x="238.2" y="396.0" width="8.7" height="3.2" fill="#00ffff"/>
<rect x="247.8" y="393.7" width="8.7" height="5.5" fill="#00ffff"/>
<rect x="257.4" y="392.7" width="8.7" height="6.5" fill="#00ffff"/>
<rect x="267.1" y="390.4" width="8.7" height="8.8" fill="#00ffff"/>
<rect x="276.7" y="389.8" width="8.7" height="9.4" fill="#00ffff"/>
<rect x="286.3" y="387.8" width="8.7" height="11.4" fill="#00ffff"/>
<rect x="295.9" y="387.8" width="8.7" height="11.4" fill="#00ffff"/>
<rect x="305.5" y="386.5" width="8.7" height="12.7" fill="#00ffff"/>
<rect x="315.1" y="388.8" width="8.7" height="10.4" fill="#00ffff"/>
<rect x="324.7" y="389.8" width="8.7" height="9.4" fill="#00ffff"/>
<rect x="334.4" y="389.8" width="8.7" height="9.4" fill="#00ffff"/>
<rect x="344.0" y="392.2" width="8.7" height="7.0" fill="#00ffff"/>
<rect x="353.6" y="392.2" width="8.7" height="7.0" fill="#00ffff"/>
<rect x="363.2" y="390.4" width="8.7" height="8.8" fill="#00ffff"/>
<rect x="372.8" y="393.5" width="8.7" height="5.7" fill="#00ffff"/>
<rect x="382.4" y="397.9" width="8.7" height="1.3" fill="#00ffff"/>
<rect x="392.1" y="399.2" width="8.7" height="7.1" fill="#00ffff"/>
<rect x="401.7" y="399.2" width="8.7" height="14.3" fill="#00ffff"/>
<rect x="411.3" y="399.2" width="8.7" height="17.7" fill="#00ffff"/>
<rect x="420.9" y="399.2" width="8.7" height="27.7" fill="#00ffff"/>
<rect x="430.5" y="399.2" width="8.7" height="31.0" fill="#00ffff"/>
<rect x="440.1" y="399.2" width="8.7" height="29.4" fill="#00ffff"/>
<rect x="449.7" y="399.2" width="8.7" height="24.7" fill="#00ffff"/>
<rect x="459.4" y="399.2" width="8.7" height="20.2" fill="#00ffff"/>
<rect x="469.0" y="399.2" width="8.7" height="19.2" fill="#00ffff"/>
<rect x="478.6" y="399.2" width="8.7" height="15.7" fill="#00ffff"/>
<rect x="488.2" y="399.2" width="8.7" height="30.0" fill="#00ffff"/>
<rect x="497.8" y="399.2" width="8.7" height="34.3" fill="#00ffff"/>
<rect x="507.4" y="399.2" width="8.7" height="33.0" fill="#00ffff"/>
<rect x="517.0" y="399.2" width="8.7" height="30.0" fill="#00ffff"/>
<rect x="526.7" y="399.2" width="8.7" height="21.2" fill="#00ffff"/>
<rect x="536.3" y="399.2" width="8.7" height="8.8" fill="#00ffff"/>
<rect x="545.9" y="399.2" width="8.7" height="1.6" fill="#00ffff"/>
<rect x="555.5" y="395.3" width="8.7" height="3.9" fill="#00ffff"/>
<rect x="565.1" y="389.0" width="8.7" height="10.2" fill="#00ffff"/>
<rect x="574.7" y="386.5" width="8.7" height="12.7" fill="#00ffff"/>
<rect x="584.3" y="381.8" width="8.7" height="17.4" fill="#00ffff"/>
<rect x="594.0" y="380.8" width="8.7" height="18.4" fill="#00ffff"/>
<rect x="603.6" y="382.5" width="8.7" height="16.7" fill="#00ffff"/>
<rect x="613.2" y="385.7" width="8.7" height="13.5" fill="#00ffff"/>
<rect x="622.8" y="389.0" width="8.7" height="10.2" fill="#00ffff"/>
<rect x="632.4" y="389.0" width="8.7" height="10.2" fill="#00ffff"/>
<rect x="642.0" y="391.4" width="8.7" height="7.8" fill="#00ffff"/>
<rect x="651.7" y="391.4" width="8.7" height="7.8" fill="#00ffff"/>
<rect x="661.3" y="391.4" width="8.7" height="7.8" fill="#00ffff"/>
<rect x="670.9" y="391.4" width="8.7" height="7.8" fill="#00ffff"/>
<rect x="680.5" y="391.4" width="8.7" height="7.8" fill="#00ffff"/>
<rect x="690.1" y="394.5" width="8.7" height="4.7" fill="#00ffff"/>
<rect x="709.3" y="399.2" width="8.7" height="2.6" fill="#00ffff"/>
<rect x="719.0" y="399.2" width="8.7" height="6.5" fill="#00ffff"/>
<rect x="728.6" y="399.2" width="8.7" height="5.5" fill="#00ffff"/>
<rect x="738.2" y="399.2" width="8.7" height="6.5" fill="#00ffff"/>
<rect x="747.8" y="399.2" width="8.7" height="3.9" fill="#00ffff"/>
<rect x="757.4" y="399.2" width="8.7" height="0.7" fill="#00ffff"/>
<rect x="767.0" y="396.9" width="8.7" height="2.3" fill="#00ffff"/>
<rect x="776.6" y="394.3" width="8.7" height="4.9" fill="#00ffff"/>
<rect x="786.3" y="390.4" width="8.7" height="8.8" fill="#00ffff"/>
<rect x="795.9" y="387.0" width="8.7" height="12.2" fill="#00ffff"/>
<rect x="805.5" y="378.6" width="8.7" height="20.6" fill="#00ffff"/>
<rect x="815.1" y="372.7" width="8.7" height="26.5" fill="#00ffff"/>
<rect x="824.7" y="368.2" width="8.7" height="31.0" fill="#00ffff"/>
<rect x="834.3" y="364.3" width="8.7" height="34.9" fill="#00ffff"/>
<rect x="844.0" y="373.7" width="8.7" height="25.5" fill="#00ffff"/>
<rect x="853.6" y="377.6" width="8.7" height="21.6" fill="#00ffff"/>
<rect x="863.2" y="382.5" width="8.7" height="16.7" fill="#00ffff"/>
<rect x="872.8" y="382.0" width="8.7" height="17.2" fill="#00ffff"/>
<rect x="882.4" y="382.0" width="8.7" height="17.2" fill="#00ffff"/>
<rect x="892.0" y="382.0" width="8.7" height="17.2" fill="#00ffff"/>
<rect x="901.6" y="384.1" width="8.7" height="15.1" fill="#00ffff"/>
<rect x="911.3" y="388.8" width="8.7" height="10.4" fill="#00ffff"/>
<polyline fill="none" stroke="#00a000" stroke-width="1.25" stroke-linejoin="round" points="5.9,354.2 12.0,354.2 22.0,357.5 31.0,358.8 41.0,361.0 50.0,364.5 59.0,368.2 69.0,371.4 78.0,375.0 88.0,379.2 98.0,381.5 107.5,384.1 117.6,387.0 127.5,390.0 146.5,394.9 166.0,397.8 185.0,398.8 194.0,398.0 203.7,396.7 223.0,393.7 242.0,391.2 262.0,388.4 281.0,383.9 300.0,378.6 319.0,374.1 338.6,369.2 358.0,365.9 367.5,363.7 377.0,362.4 386.7,362.3 396.3,363.9 405.7,367.0 415.5,372.4 425.0,377.8 434.7,383.5 444.5,390.0 454.0,394.9 464.0,400.4 473.0,404.3 483.0,409.0 492.5,415.5 502.0,422.4 512.0,429.2 521.6,435.7 531.0,439.9 540.6,442.3 550.4,442.1 560.0,441.1 570.0,438.3 579.4,435.2 588.8,431.6 598.0,427.6 607.6,423.4 617.5,420.3 627.0,417.5 636.5,415.6 646.3,413.9 655.7,412.0 666.0,410.2 675.7,408.6 685.0,406.7 694.5,406.0 704.0,406.0 713.5,406.3 723.3,407.6 732.7,409.0 742.4,410.0 751.8,410.6 762.0,410.8 771.8,410.4 781.2,409.0 790.8,406.7 800.2,403.7 809.8,399.2 819.2,393.3 829.0,386.5 838.4,378.6 848.0,373.7 857.5,369.4 867.6,364.9 877.5,360.6 887.0,356.7 896.7,352.5 906.0,349.2 915.7,346.7" stroke-dasharray="3 0.7"/>
<polyline fill="none" stroke="#b40000" stroke-width="1.3" stroke-linejoin="round" points="5.9,359.5 12.0,359.5 22.0,366.4 31.0,370.8 41.0,373.2 50.0,380.1 60.0,382.8 69.0,387.7 79.0,390.6 88.0,394.9 98.0,393.9 107.5,392.4 117.6,398.8 127.5,402.7 137.0,404.3 146.5,405.1 156.0,405.1 166.0,404.3 175.0,402.4 185.0,399.4 194.0,395.3 203.7,388.2 213.5,386.5 223.0,385.9 232.7,386.9 242.4,387.8 252.0,383.9 262.0,381.0 271.0,378.0 280.8,374.1 290.4,370.2 300.0,367.3 309.6,363.3 319.0,362.9 328.8,361.8 338.6,358.8 348.4,360.0 358.0,358.8 367.5,354.1 377.0,356.5 386.7,361.5 396.3,372.4 405.7,381.2 415.5,390.0 424.9,405.7 434.7,414.9 444.5,419.4 454.0,420.4 464.0,420.4 473.3,422.4 483.0,423.4 492.5,444.0 502.4,454.9 511.8,461.8 521.0,465.3 530.8,460.8 540.6,449.0 550.4,442.3 560.2,435.4 569.6,427.8 579.4,421.5 588.8,413.9 598.0,408.7 607.6,407.4 617.5,406.6 627.0,407.5 636.5,406.1 646.3,405.5 655.7,404.1 666.0,402.4 675.7,400.2 685.0,398.4 694.5,401.8 704.0,405.7 713.5,408.6 723.3,412.9 732.7,414.1 742.4,416.0 751.8,414.1 762.0,411.0 771.8,407.0 781.2,403.1 790.8,397.3 800.2,390.4 809.8,375.7 819.2,365.9 829.0,355.1 838.4,343.0 848.0,346.9 857.5,345.9 867.6,348.2 877.5,342.4 887.0,339.0 896.7,334.9 906.0,333.5 915.7,336.1" />
<rect x="161.4" y="539.8" width="8.4" height="2.3" fill="#00e8e8"/>
<rect x="171.1" y="540.8" width="8.4" height="1.3" fill="#00e8e8"/>
<rect x="180.7" y="539.8" width="8.4" height="2.3" fill="#00e8e8"/>
<rect x="190.3" y="539.8" width="8.4" height="2.3" fill="#00e8e8"/>
<rect x="199.9" y="538.8" width="8.4" height="3.3" fill="#00e8e8"/>
<rect x="209.5" y="538.8" width="8.4" height="3.3" fill="#00e8e8"/>
<rect x="219.1" y="539.8" width="8.4" height="2.3" fill="#00e8e8"/>
<rect x="228.7" y="539.8" width="8.4" height="2.3" fill="#00e8e8"/>
<rect x="238.4" y="539.8" width="8.4" height="2.3" fill="#00e8e8"/>
<rect x="248.0" y="538.8" width="8.4" height="3.3" fill="#00e8e8"/>
<rect x="257.6" y="539.8" width="8.4" height="2.3" fill="#00e8e8"/>
<rect x="267.2" y="538.8" width="8.4" height="3.3" fill="#00e8e8"/>
<rect x="276.8" y="539.8" width="8.4" height="2.3" fill="#00e8e8"/>
<rect x="286.4" y="538.1" width="8.4" height="4.0" fill="#00e8e8"/>
<rect x="296.1" y="540.8" width="8.4" height="1.3" fill="#00e8e8"/>
<rect x="305.7" y="537.1" width="8.4" height="5.0" fill="#00e8e8"/>
<rect x="315.3" y="538.8" width="8.4" height="3.3" fill="#00e8e8"/>
<rect x="324.9" y="539.8" width="8.4" height="2.3" fill="#00e8e8"/>
<rect x="334.5" y="538.8" width="8.4" height="3.3" fill="#00e8e8"/>
<rect x="344.1" y="535.8" width="8.4" height="6.3" fill="#00e8e8"/>
<rect x="353.7" y="536.8" width="8.4" height="5.3" fill="#00e8e8"/>
<rect x="363.4" y="535.8" width="8.4" height="6.3" fill="#00e8e8"/>
<rect x="373.0" y="537.3" width="8.4" height="4.8" fill="#00e8e8"/>
<rect x="382.6" y="538.8" width="8.4" height="3.3" fill="#00e8e8"/>
<rect x="392.2" y="538.1" width="8.4" height="4.0" fill="#00e8e8"/>
<rect x="401.8" y="539.7" width="8.4" height="2.4" fill="#00e8e8"/>
<rect x="411.4" y="539.7" width="8.4" height="2.4" fill="#00e8e8"/>
<rect x="421.0" y="536.3" width="8.4" height="5.8" fill="#00e8e8"/>
<rect x="430.7" y="538.0" width="8.4" height="4.1" fill="#00e8e8"/>
<rect x="440.3" y="539.7" width="8.4" height="2.4" fill="#00e8e8"/>
<rect x="449.9" y="539.9" width="8.4" height="2.2" fill="#00e8e8"/>
<rect x="459.5" y="538.8" width="8.4" height="3.3" fill="#00e8e8"/>
<rect x="469.1" y="538.0" width="8.4" height="4.1" fill="#00e8e8"/>
<rect x="478.7" y="538.8" width="8.4" height="3.3" fill="#00e8e8"/>
<rect x="488.4" y="534.3" width="8.4" height="7.8" fill="#00e8e8"/>
<rect x="498.0" y="534.3" width="8.4" height="7.8" fill="#00e8e8"/>
<rect x="507.6" y="537.1" width="8.4" height="5.0" fill="#00e8e8"/>
<rect x="517.2" y="539.7" width="8.4" height="2.4" fill="#00e8e8"/>
<rect x="526.8" y="538.8" width="8.4" height="3.3" fill="#00e8e8"/>
<rect x="536.4" y="540.5" width="8.4" height="1.6" fill="#00e8e8"/>
<rect x="546.0" y="540.5" width="8.4" height="1.6" fill="#00e8e8"/>
<rect x="555.7" y="539.7" width="8.4" height="2.4" fill="#00e8e8"/>
<rect x="565.3" y="540.5" width="8.4" height="1.6" fill="#00e8e8"/>
<rect x="574.9" y="538.8" width="8.4" height="3.3" fill="#00e8e8"/>
<rect x="584.5" y="540.5" width="8.4" height="1.6" fill="#00e8e8"/>
<rect x="594.1" y="539.7" width="8.4" height="2.4" fill="#00e8e8"/>
<rect x="603.7" y="540.5" width="8.4" height="1.6" fill="#00e8e8"/>
<rect x="613.3" y="539.7" width="8.4" height="2.4" fill="#00e8e8"/>
<rect x="623.0" y="539.7" width="8.4" height="2.4" fill="#00e8e8"/>
<rect x="632.6" y="540.5" width="8.4" height="1.6" fill="#00e8e8"/>
<rect x="642.2" y="540.5" width="8.4" height="1.6" fill="#00e8e8"/>
<rect x="651.8" y="540.5" width="8.4" height="1.6" fill="#00e8e8"/>
<rect x="661.4" y="540.5" width="8.4" height="1.6" fill="#00e8e8"/>
<rect x="671.0" y="540.5" width="8.4" height="1.6" fill="#00e8e8"/>
<rect x="680.6" y="540.5" width="8.4" height="1.6" fill="#00e8e8"/>
<rect x="690.3" y="539.7" width="8.4" height="2.4" fill="#00e8e8"/>
<rect x="699.9" y="539.7" width="8.4" height="2.4" fill="#00e8e8"/>
<rect x="709.5" y="540.5" width="8.4" height="1.6" fill="#00e8e8"/>
<rect x="719.1" y="538.8" width="8.4" height="3.3" fill="#00e8e8"/>
<rect x="728.7" y="540.5" width="8.4" height="1.6" fill="#00e8e8"/>
<rect x="738.3" y="540.5" width="8.4" height="1.6" fill="#00e8e8"/>
<rect x="748.0" y="539.7" width="8.4" height="2.4" fill="#00e8e8"/>
<rect x="757.6" y="539.7" width="8.4" height="2.4" fill="#00e8e8"/>
<rect x="767.2" y="540.5" width="8.4" height="1.6" fill="#00e8e8"/>
<rect x="776.8" y="540.5" width="8.4" height="1.6" fill="#00e8e8"/>
<rect x="786.4" y="539.1" width="8.4" height="3.0" fill="#00e8e8"/>
<rect x="796.0" y="539.9" width="8.4" height="2.2" fill="#00e8e8"/>
<rect x="805.6" y="538.0" width="8.4" height="4.1" fill="#00e8e8"/>
<rect x="815.3" y="539.9" width="8.4" height="2.2" fill="#00e8e8"/>
<rect x="824.9" y="539.9" width="8.4" height="2.2" fill="#00e8e8"/>
<rect x="834.5" y="538.0" width="8.4" height="4.1" fill="#00e8e8"/>
<rect x="844.1" y="538.8" width="8.4" height="3.3" fill="#00e8e8"/>
<rect x="853.7" y="540.5" width="8.4" height="1.6" fill="#00e8e8"/>
<rect x="863.3" y="539.9" width="8.4" height="2.2" fill="#00e8e8"/>
<rect x="872.9" y="538.8" width="8.4" height="3.3" fill="#00e8e8"/>
<rect x="882.6" y="539.9" width="8.4" height="2.2" fill="#00e8e8"/>
<rect x="892.2" y="538.8" width="8.4" height="3.3" fill="#00e8e8"/>
<rect x="901.8" y="539.7" width="8.4" height="2.4" fill="#00e8e8"/>
<rect x="911.4" y="540.3" width="8.4" height="1.8" fill="#00e8e8"/>
<rect x="968.6" y="68.2" width="47.2" height="17.4" fill="#d2d2d2"/>
<text x="6.70 16.48" y="49.40" font-family="'Liberation Sans','Noto Sans CJK JP',sans-serif" font-size="9.58" fill="#ffffff" stroke="#ffffff" stroke-width="0.3">日付</text>
<text x="84.94 94.72" y="49.40" font-family="'Liberation Sans','Noto Sans CJK JP',sans-serif" font-size="9.58" fill="#ffffff" stroke="#ffffff" stroke-width="0.3">始値</text>
<text x="143.62 153.40" y="49.40" font-family="'Liberation Sans','Noto Sans CJK JP',sans-serif" font-size="9.58" fill="#ffffff" stroke="#ffffff" stroke-width="0.3">高値</text>
<text x="202.30 212.08" y="49.40" font-family="'Liberation Sans','Noto Sans CJK JP',sans-serif" font-size="9.58" fill="#ffffff" stroke="#ffffff" stroke-width="0.3">安値</text>
<text x="260.98 270.76" y="49.40" font-family="'Liberation Sans','Noto Sans CJK JP',sans-serif" font-size="9.58" fill="#ffffff" stroke="#ffffff" stroke-width="0.3">終値</text>
<rect x="6.3" y="51.0" width="133.0" height="38.6" fill="#fff" stroke="#202020" stroke-width="0.6"/>
<path d="M124.0 58.6 l3.6 -6.4 l3.6 6.4 z" fill="none" stroke="#333" stroke-width="1"/>
<path d="M133.2 52.6 l5.6 5.8 m0 -5.8 l-5.6 5.8" fill="none" stroke="#333" stroke-width="1"/>
<text x="7.60 16.26 24.92 33.58" y="59.20" font-family="'Liberation Sans','Noto Sans CJK JP',sans-serif" font-size="8.66" fill="#1c1c1c" stroke="#1c1c1c" stroke-width="0.25">移動平均</text>
<text x="46.57" y="59.20" font-family="'Liberation Sans','Noto Sans CJK JP',sans-serif" font-size="8.66" fill="#1c1c1c" stroke="#1c1c1c" stroke-width="0.25">金</text>
<text x="59.56 68.22 76.88 85.54" y="59.20" font-family="'Liberation Sans','Noto Sans CJK JP',sans-serif" font-size="8.66" fill="#1c1c1c" stroke="#1c1c1c" stroke-width="0.25">先限連続</text>
<line x1="7.5" x2="15.2" y1="65.2" y2="65.2" stroke="#ffee33" stroke-width="1.2"/>
<text x="15.80 24.46 33.12" y="68.30" font-family="'Liberation Sans','Noto Sans CJK JP',sans-serif" font-size="8.66" fill="#1c1c1c" stroke="#1c1c1c" stroke-width="0.25">短期線</text>
<line x1="7.5" x2="15.2" y1="74.8" y2="74.8" stroke="#33e4ff" stroke-width="1.2"/>
<text x="15.80 24.46 33.12" y="77.85" font-family="'Liberation Sans','Noto Sans CJK JP',sans-serif" font-size="8.66" fill="#1c1c1c" stroke="#1c1c1c" stroke-width="0.25">中期線</text>
<line x1="7.5" x2="15.2" y1="84.3" y2="84.3" stroke="#44e844" stroke-width="1.2"/>
<text x="15.80 24.46 33.12" y="87.40" font-family="'Liberation Sans','Noto Sans CJK JP',sans-serif" font-size="8.66" fill="#1c1c1c" stroke="#1c1c1c" stroke-width="0.25">長期線</text>
<rect x="6.3" y="290.6" width="115.6" height="38.6" fill="#fff" stroke="#202020" stroke-width="0.6"/>
<path d="M106.6 298.2 l3.6 -6.4 l3.6 6.4 z" fill="none" stroke="#333" stroke-width="1"/>
<path d="M115.8 292.2 l5.6 5.8 m0 -5.8 l-5.6 5.8" fill="none" stroke="#333" stroke-width="1"/>
<text x="28.85" y="298.60" font-family="'Liberation Sans','Noto Sans CJK JP',sans-serif" font-size="8.66" fill="#1c1c1c" stroke="#1c1c1c" stroke-width="0.25">金</text>
<text x="41.84 50.50 59.16 67.82" y="298.60" font-family="'Liberation Sans','Noto Sans CJK JP',sans-serif" font-size="8.66" fill="#1c1c1c" stroke="#1c1c1c" stroke-width="0.25">先限連続</text>
<line x1="7.2" x2="14.8" y1="304.9" y2="304.9" stroke="#ff5050" stroke-width="1.2"/>
<line x1="7.2" x2="14.8" y1="314.5" y2="314.5" stroke="#30d030" stroke-width="1.1" stroke-dasharray="2 1"/>
<text x="15.60 24.26 32.92 41.58" y="317.80" font-family="'Liberation Sans','Noto Sans CJK JP',sans-serif" font-size="8.66" fill="#1c1c1c" stroke="#1c1c1c" stroke-width="0.25">シグナル</text>
<rect x="7.2" y="322.6" width="7.8" height="4.6" fill="#00e8ff"/>
<text x="32.92 41.58 50.24 58.90 67.56" y="327.10" font-family="'Liberation Sans','Noto Sans CJK JP',sans-serif" font-size="8.66" fill="#1c1c1c" stroke="#1c1c1c" stroke-width="0.25">オシレータ</text>
<rect x="6.3" y="513.0" width="154.8" height="29.6" fill="#fff" stroke="#202020" stroke-width="0.6"/>
<path d="M145.8 520.6 l3.6 -6.4 l3.6 6.4 z" fill="none" stroke="#333" stroke-width="1"/>
<path d="M155.0 514.6 l5.6 5.8 m0 -5.8 l-5.6 5.8" fill="none" stroke="#333" stroke-width="1"/>
<text x="7.20 15.86 24.52" y="521.00" font-family="'Liberation Sans','Noto Sans CJK JP',sans-serif" font-size="8.66" fill="#1c1c1c" stroke="#1c1c1c" stroke-width="0.25">出来高</text>
<text x="37.51" y="521.00" font-family="'Liberation Sans','Noto Sans CJK JP',sans-serif" font-size="8.66" fill="#1c1c1c" stroke="#1c1c1c" stroke-width="0.25">金</text>
<text x="50.50 59.16 67.82 76.48" y="521.00" font-family="'Liberation Sans','Noto Sans CJK JP',sans-serif" font-size="8.66" fill="#1c1c1c" stroke="#1c1c1c" stroke-width="0.25">先限連続</text>
<rect x="7.2" y="526.8" width="7.8" height="4.4" fill="#00e8ff"/>
<text x="15.60 24.26 32.92" y="531.20" font-family="'Liberation Sans','Noto Sans CJK JP',sans-serif" font-size="8.66" fill="#1c1c1c" stroke="#1c1c1c" stroke-width="0.25">出来高</text>
<line x1="7.2" x2="14.8" y1="537.2" y2="537.2" stroke="#70e850" stroke-width="1.1"/>
<text x="15.60 24.26 32.92 41.58 50.24 58.90 67.56" y="540.40" font-family="'Liberation Sans','Noto Sans CJK JP',sans-serif" font-size="8.66" fill="#1c1c1c" stroke="#1c1c1c" stroke-width="0.25">出来高移動平均</text>
<g transform="translate(8,5.5)"><rect x="0.3" y="0.3" width="10.6" height="10.6" fill="#fafafa" stroke="#b8b8b8" stroke-width="0.6"/><path d="M1.2 8.4 L3.4 5.6 L4.8 6.8 L7 3 L8.4 4.6 L9.8 1.6" fill="none" stroke="#ee3344" stroke-width="1.3"/><path d="M1.2 9.4 L3.4 6.8 L4.8 8 L7 4.4 L8.6 6 " fill="none" stroke="#4466dd" stroke-width="0.7"/><path d="M0.6 10.6 H10.8" stroke="#777" stroke-width="0.7"/></g>
<text x="23.80" y="15.20" font-family="'Liberation Sans','Noto Sans CJK JP',sans-serif" font-size="9.4" fill="#111" stroke="#111" stroke-width="0.15">金</text>
<text x="36.20 45.60 55.00 64.40" y="15.20" font-family="'Liberation Sans','Noto Sans CJK JP',sans-serif" font-size="9.4" fill="#111" stroke="#111" stroke-width="0.15">先限連続</text>
<g transform="translate(926.6,11.6) rotate(-38)" fill="none" stroke="#8c8c8c" stroke-width="1.1"><rect x="-6" y="-1.9" width="6.2" height="3.8" rx="1.9"/><rect x="-0.2" y="-1.9" width="6.2" height="3.8" rx="1.9"/></g><path d="M922 16.8 L931.4 6.2" stroke="#707070" stroke-width="0.9"/>
<path d="M946.6 8.4 A4.3 4.3 0 1 0 947.4 13.6" fill="none" stroke="#6e6e6e" stroke-width="2.1"/><path d="M943.6 8.6 h4.4 v-3.8 z" fill="#6e6e6e"/><rect x="943.6" y="11.2" width="4.4" height="2.4" fill="#eee" stroke="#6e6e6e" stroke-width="0.5"/>
<rect x="953.6" y="6" width="7.4" height="9.6" fill="#f2f2f2" stroke="#6e6e6e" stroke-width="0.9"/><rect x="956.8" y="8.6" width="7" height="5.8" fill="#e0e0e0" stroke="#6e6e6e" stroke-width="1.1"/>
<rect x="970.6" y="4.2" width="13.6" height="14.2" rx="2.6" fill="url(#gb)" stroke="#a4a4a4" stroke-width="0.9"/>
<rect x="986.2" y="4.2" width="13.6" height="14.2" rx="2.6" fill="url(#gb)" stroke="#a4a4a4" stroke-width="0.9"/>
<rect x="1002.0" y="4.2" width="13.6" height="14.2" rx="2.6" fill="url(#gb)" stroke="#a4a4a4" stroke-width="0.9"/>
<rect x="974.6" y="13" width="5.4" height="1.7" fill="#5a5a5a"/>
<rect x="990.2" y="8.6" width="6" height="5.4" fill="none" stroke="#5a5a5a" stroke-width="1.2"/><rect x="989.6" y="8" width="7.2" height="1.4" fill="#5a5a5a"/>
<path d="M1005.8 8.4 l5.8 6 m0 -6 l-5.8 6" stroke="#5a5a5a" stroke-width="1.3" fill="none"/>
<text x="9.20" y="33.20" font-family="'Liberation Sans','Noto Sans CJK JP',sans-serif" font-size="9.5" fill="#2c2c36" stroke="#2c2c36" stroke-width="0.15">金</text>
<text x="27.20 36.70 46.20 55.70" y="33.20" font-family="'Liberation Sans','Noto Sans CJK JP',sans-serif" font-size="9.5" fill="#2c2c36" stroke="#2c2c36" stroke-width="0.15">先限連続</text>
<text x="74.80 84.00" y="33.20" font-family="'Liberation Sans','Noto Sans CJK JP',sans-serif" font-size="9.2" fill="#2c2c36" stroke="#2c2c36" stroke-width="0.15">日足</text>
<path d="M97 27.6 h5.4 l-2.7 3 z" fill="#222"/>
<rect x="105.6" y="22" width="35.4" height="13.6" fill="#fff" stroke="#c4c8d0" stroke-width="0.6"/>
<rect x="129.6" y="23" width="10.4" height="11.6" fill="#e9e9e9" stroke="#c0c0c0" stroke-width="0.5"/><path d="M132.2 27.4 l2.6 -2.6 l2.6 2.6 z M132.2 30.2 l2.6 2.6 l2.6 -2.6 z" fill="#333"/><path d="M129.8 28.8 h10" stroke="#bbb" stroke-width="0.5"/>
<rect x="145.4" y="24.2" width="0.9" height="10.8" fill="#a8acb6"/><rect x="146.3" y="24.2" width="0.9" height="10.8" fill="#f0f2f6"/>
<rect x="222.6" y="24.2" width="0.9" height="10.8" fill="#a8acb6"/><rect x="223.5" y="24.2" width="0.9" height="10.8" fill="#f0f2f6"/>
<rect x="264.6" y="24.2" width="0.9" height="10.8" fill="#a8acb6"/><rect x="265.5" y="24.2" width="0.9" height="10.8" fill="#f0f2f6"/>
<rect x="324.0" y="24.2" width="0.9" height="10.8" fill="#a8acb6"/><rect x="324.9" y="24.2" width="0.9" height="10.8" fill="#f0f2f6"/>
<rect x="462.0" y="24.2" width="0.9" height="10.8" fill="#a8acb6"/><rect x="462.9" y="24.2" width="0.9" height="10.8" fill="#f0f2f6"/>
<path d="M149.8 24.4 L158.6 28 L155.4 29.2 L158 32.4 L156.6 33.4 L154 30.2 L152 32.6 Z" fill="#b8a8ec" stroke="#7258c8" stroke-width="1.1" stroke-linejoin="round"/>
<path d="M168.4 29.2 q-1.4 -2.2 0.4 -2.4 l1.6 1.4 v-2.8 q1 -1.6 2 -0.2 q1 -1.8 2.1 -0.2 q1.1 -1.4 2 0.2 q1.3 -0.4 1.4 1.2 v4.2 q0 3.4 -2.6 3.8 h-2.9 q-1.6 0 -4 -5.2 z" fill="#fbe4c0" stroke="#e2a04c" stroke-width="1.5" stroke-linejoin="round"/>
<path d="M171.6 30 q1.6 -2.2 4.2 0 v2.6 q-2 1.2 -4.2 0 z" fill="#fffaf0" opacity="0.9"/>
<path d="M187 31.8 L195.4 24.6" stroke="#e8a038" stroke-width="3.4" stroke-linecap="round" fill="none"/>
<path d="M187.2 31.4 L195.2 24.6" stroke="#fbd898" stroke-width="1.3" stroke-linecap="round" fill="none"/>
<path d="M185.2 34.2 l0.6 -2.8 l2.4 2 z" fill="#b88838"/>
<rect x="203.2" y="22.2" width="12.8" height="12.8" fill="#b2b7c0"/>
<path d="M203.2 35 V22.2 H216" fill="none" stroke="#858a94" stroke-width="0.9"/><path d="M203.2 35 H216 V22.2" fill="none" stroke="#e6e8ee" stroke-width="0.9"/>
<path d="M210.6 32.2 l2 -2 l2.4 2 l-2.2 2.2 z" fill="#1c4ca6"/>
<path d="M206.6 32.2 L214 25.6" stroke="#3f7ae0" stroke-width="3.4" stroke-linecap="round" fill="none"/>
<path d="M206.8 31.8 L213.8 25.6" stroke="#a8c8ff" stroke-width="1.2" stroke-linecap="round" fill="none"/>
<path d="M204.8 34.4 l0.6 -2.6 l2.2 1.8 z" fill="#2a5cc0"/>
<rect x="226.2" y="22.2" width="13.2" height="13" fill="#c4c8d0"/><path d="M226.2 35.2 V22.2 H239.4" fill="none" stroke="#7c808a" stroke-width="1"/><path d="M226.2 35.2 H239.4 V22.2" fill="none" stroke="#eceef2" stroke-width="0.9"/>
<path d="M230.4 22.8 v12.2 M226.8 26.2 h12.2" stroke="#5848a8" stroke-width="1" fill="none"/><path d="M232.4 29.2 h4 l-1.4 1.4 l2.4 2.4 l-1 1 l-2.4 -2.4 l-1.6 1.6 z" fill="#7a2ab0"/>
<circle cx="250.6" cy="28.6" r="5.7" fill="#38a8e4"/><circle cx="250.6" cy="28.6" r="4.6" fill="#58bcf0"/><path d="M247.8 30 l2.8 -2.8 l2.8 2.8" fill="none" stroke="#fff" stroke-width="1.5"/>
<rect x="268.4" y="23.4" width="10.8" height="11.4" fill="#fff" stroke="#3a68c0" stroke-width="1"/><rect x="268.4" y="23.4" width="10.8" height="2.2" fill="#3a68c0"/><path d="M272 26 v8.6 M275.6 26 v8.6 M268.6 29 h10.4 M268.6 31.8 h10.4" stroke="#b8c4d8" stroke-width="0.6"/><path d="M272.6 31 q0.6 -4 4.6 -4.4 v-1.6 l2.4 2.6 l-2.4 2.4 v-1.4 q-2.8 0.2 -4.6 2.4 z" fill="#f03c3c"/>
<rect x="286.2" y="23.6" width="11.2" height="11.2" fill="#e8eef8"/><path d="M286.2 24.2 h11.2 M286.2 28 h11.2 M286.2 31.4 h11.2 M286.2 34.6 h11.2" stroke="#3a78d0" stroke-width="1.1"/><path d="M288 26.2 h7.6 M288 29.8 h7.6 M288 33.2 h7.6" stroke="#8a8a8a" stroke-width="0.7" stroke-dasharray="1.6 1.2"/>
<rect x="304.6" y="23.6" width="11.2" height="10.6" fill="#e8eef8"/><path d="M304.6 24.2 h11.2 M304.6 27.4 h11.2 M304.6 30.6 h11.2 M304.6 33.8 h11.2 M307.2 23.6 v10.6 M310.4 23.6 v10.6 M313.4 23.6 v10.6" stroke="#3a78d0" stroke-width="1"/><path d="M304.6 29 h11.2" stroke="#e08080" stroke-width="0.7"/>
<rect x="328.6" y="23.2" width="11.2" height="11.8" fill="#dce0e9" stroke="#aeb2bc" stroke-width="0.5"/>
<path d="M330.6 34.4 v-4.8 M333.0 34.4 v-10 M335.4 34.4 v-7.4 M337.8 34.4 v-4" stroke="#2a86ee" stroke-width="2" fill="none"/>
<path d="M341.4 27.6 h5 l-2.5 2.8 z" fill="#222"/>
<rect x="350.8" y="23.2" width="11.2" height="11.8" fill="#dce0e9" stroke="#aeb2bc" stroke-width="0.5"/>
<path d="M352.8 34.4 v-4.8 M355.2 34.4 v-10 M357.6 34.4 v-7.4 M360.0 34.4 v-4" stroke="#2a86ee" stroke-width="2" fill="none"/>
<path d="M352.0 24.6 l8.6 9.2 m0 -9.2 l-8.6 9.2" stroke="#f02c3c" stroke-width="1.2" fill="none"/>
<rect x="369.2" y="23.2" width="11.2" height="11.8" fill="#dce0e9" stroke="#aeb2bc" stroke-width="0.5"/>
<path d="M371.1 34.4 v-5.8 M373.2 34.4 v-10.4 M375.3 34.4 v-7.6" stroke="#2a86ee" stroke-width="1.5" fill="none"/>
<rect x="376.0" y="28.6" width="4" height="5.2" fill="#c8d4ec"/>
<rect x="387.2" y="23.2" width="11.2" height="11.8" fill="#dce0e9" stroke="#aeb2bc" stroke-width="0.5"/>
<path d="M389.1 34.4 v-5.8 M391.2 34.4 v-10.4 M393.3 34.4 v-7.6" stroke="#2a86ee" stroke-width="1.5" fill="none"/>
<rect x="394.0" y="28.6" width="4" height="5.2" fill="#c8d4ec"/>
<rect x="405.4" y="23.2" width="11.2" height="11.8" fill="#dce0e9" stroke="#aeb2bc" stroke-width="0.5"/>
<path d="M407.3 34.4 v-5.8 M409.4 34.4 v-10.4 M411.5 34.4 v-7.6" stroke="#2a86ee" stroke-width="1.5" fill="none"/>
<rect x="412.2" y="28.6" width="4" height="5.2" fill="#c8d4ec"/>
<rect x="424.0" y="23.2" width="11.2" height="11.8" fill="#dce0e9" stroke="#aeb2bc" stroke-width="0.5"/>
<path d="M425.9 34.4 v-5.8 M428.0 34.4 v-10.4 M430.1 34.4 v-7.6" stroke="#2a86ee" stroke-width="1.5" fill="none"/>
<rect x="430.8" y="28.6" width="4" height="5.2" fill="#c8d4ec"/>
<rect x="442.2" y="23.2" width="11.2" height="11.8" fill="#dce0e9" stroke="#aeb2bc" stroke-width="0.5"/>
<path d="M444.1 34.4 v-5.8 M446.2 34.4 v-10.4 M448.3 34.4 v-7.6" stroke="#2a86ee" stroke-width="1.5" fill="none"/>
<rect x="449.0" y="28.6" width="4" height="5.2" fill="#c8d4ec"/>
<path d="M470.4 25 A4.6 4.6 0 1 0 474.6 32.4" fill="none" stroke="#2c8ee8" stroke-width="1.7"/><path d="M466.4 23.2 h5 v4.4 z" fill="#2860d8"/>
<g transform="translate(1004.2,28.8) rotate(45)"><rect x="-1.1" y="-1" width="2.2" height="8.6" rx="1" fill="#6666ee"/><path d="M-3.2 -5.6 v3 a3.2 3.2 0 0 0 6.4 0 v-3 l-1.8 0 v2.8 h-2.8 v-2.8 z" fill="#6666ee"/></g>
<g filter="url(#fx)">
<text transform="translate(969.60,50.70) scale(0.820,1)" x="2.98 8.95 14.91 20.87 26.84 32.80" y="0" font-family="Liberation Sans" font-size="10.4" fill="#cfcfcf" text-anchor="middle">12,750</text>
<text transform="translate(969.60,104.44) scale(0.820,1)" x="2.98 8.95 14.91 20.87 26.84 32.80" y="0" font-family="Liberation Sans" font-size="10.4" fill="#cfcfcf" text-anchor="middle">12,250</text>
<text transform="translate(969.60,131.31) scale(0.820,1)" x="2.98 8.95 14.91 20.87 26.84 32.80" y="0" font-family="Liberation Sans" font-size="10.4" fill="#cfcfcf" text-anchor="middle">12,000</text>
<text transform="translate(969.60,158.18) scale(0.820,1)" x="2.98 8.95 14.91 20.87 26.84 32.80" y="0" font-family="Liberation Sans" font-size="10.4" fill="#cfcfcf" text-anchor="middle">11,750</text>
<text transform="translate(969.60,185.05) scale(0.820,1)" x="2.98 8.95 14.91 20.87 26.84 32.80" y="0" font-family="Liberation Sans" font-size="10.4" fill="#cfcfcf" text-anchor="middle">11,500</text>
<text transform="translate(969.60,211.92) scale(0.820,1)" x="2.98 8.95 14.91 20.87 26.84 32.80" y="0" font-family="Liberation Sans" font-size="10.4" fill="#cfcfcf" text-anchor="middle">11,250</text>
<text transform="translate(969.60,238.79) scale(0.820,1)" x="2.98 8.95 14.91 20.87 26.84 32.80" y="0" font-family="Liberation Sans" font-size="10.4" fill="#cfcfcf" text-anchor="middle">11,000</text>
<text transform="translate(969.60,265.66) scale(0.820,1)" x="2.98 8.95 14.91 20.87 26.84 32.80" y="0" font-family="Liberation Sans" font-size="10.4" fill="#cfcfcf" text-anchor="middle">10,750</text>
<text transform="translate(976.80,79.10) scale(0.820,1)" x="2.98 8.95 14.91 20.87 26.84 32.80" y="0" font-family="Liberation Sans" font-size="10.4" fill="#000" text-anchor="middle" font-weight="bold">12,526</text>
<text transform="translate(973.48,299.40) scale(0.820,1)" x="2.98 8.95 14.91 20.87 26.84 32.80 38.76 44.73" y="0" font-family="Liberation Sans" font-size="10.4" fill="#cfcfcf" text-anchor="middle">300.0000</text>
<text transform="translate(973.48,332.13) scale(0.820,1)" x="2.98 8.95 14.91 20.87 26.84 32.80 38.76 44.73" y="0" font-family="Liberation Sans" font-size="10.4" fill="#cfcfcf" text-anchor="middle">200.0000</text>
<text transform="translate(973.48,364.86) scale(0.820,1)" x="2.98 8.95 14.91 20.87 26.84 32.80 38.76 44.73" y="0" font-family="Liberation Sans" font-size="10.4" fill="#cfcfcf" text-anchor="middle">100.0000</text>
<text transform="translate(983.26,397.59) scale(0.820,1)" x="2.98 8.95 14.91 20.87 26.84 32.80" y="0" font-family="Liberation Sans" font-size="10.4" fill="#cfcfcf" text-anchor="middle">0.0000</text>
<text transform="translate(968.59,430.32) scale(0.820,1)" x="2.98 8.95 14.91 20.87 26.84 32.80 38.76 44.73 50.69" y="0" font-family="Liberation Sans" font-size="10.4" fill="#cfcfcf" text-anchor="middle">-100.0000</text>
<text transform="translate(968.59,463.05) scale(0.820,1)" x="2.98 8.95 14.91 20.87 26.84 32.80 38.76 44.73 50.69" y="0" font-family="Liberation Sans" font-size="10.4" fill="#cfcfcf" text-anchor="middle">-200.0000</text>
<text transform="translate(968.59,495.78) scale(0.820,1)" x="2.98 8.95 14.91 20.87 26.84 32.80 38.76 44.73 50.69" y="0" font-family="Liberation Sans" font-size="10.4" fill="#cfcfcf" text-anchor="middle">-300.0000</text>
<text transform="translate(973.66,520.90) scale(0.820,1)" x="2.98 8.95 14.91 20.87 26.84 32.80" y="0" font-family="Liberation Sans" font-size="10.4" fill="#cfcfcf" text-anchor="middle">250000</text>
<text transform="translate(998.11,539.80) scale(0.820,1)" x="2.98" y="0" font-family="Liberation Sans" font-size="10.4" fill="#cfcfcf" text-anchor="middle">0</text>
<text transform="translate(65.20,282.00) scale(0.820,1)" x="2.98 8.95" y="0" font-family="Liberation Sans" font-size="10.4" fill="#cfcfcf" text-anchor="middle">06</text>
<text transform="translate(257.00,282.00) scale(0.820,1)" x="2.98 8.95" y="0" font-family="Liberation Sans" font-size="10.4" fill="#cfcfcf" text-anchor="middle">07</text>
<text transform="translate(468.70,282.00) scale(0.820,1)" x="2.98 8.95" y="0" font-family="Liberation Sans" font-size="10.4" fill="#cfcfcf" text-anchor="middle">08</text>
<text transform="translate(671.00,282.00) scale(0.820,1)" x="2.98 8.95" y="0" font-family="Liberation Sans" font-size="10.4" fill="#cfcfcf" text-anchor="middle">09</text>
<text transform="translate(853.70,282.00) scale(0.820,1)" x="2.98 8.95" y="0" font-family="Liberation Sans" font-size="10.4" fill="#cfcfcf" text-anchor="middle">10</text>
<text transform="translate(6.60,49.40) scale(0.820,1)" x="26.84 32.80 38.76 44.73 50.69 56.65 62.62 68.58 74.54 80.51 86.47 122.25 128.21 134.18 140.14 146.10 152.07 158.03 193.81 199.77 205.74 211.70 217.66 223.63 229.59 265.37 271.34 277.30 283.26 289.23 295.19 301.15 336.93 342.90 348.86 354.82 360.79 366.75 372.71" y="0" font-family="Liberation Sans" font-size="10.4" fill="#ffffff" text-anchor="middle" stroke="#ffffff" stroke-width="0.35">:2024/10/09:12,554:12,670:12,454:12,526</text>
<text transform="translate(7.60,59.20) scale(0.820,1)" x="44.88 108.25" y="0" font-family="Liberation Sans" font-size="9.2" fill="#1c1c1c" text-anchor="middle" stroke="#1c1c1c" stroke-width="0.3">()</text>
<text transform="translate(15.80,68.30) scale(0.820,1)" x="34.32 39.60 44.88 50.16 55.45 60.73 66.01 87.13 92.41 102.97 108.25 113.53 118.81 124.09 129.37 134.65 139.93" y="0" font-family="Liberation Sans" font-size="9.2" fill="#1c1c1c" text-anchor="middle" stroke="#1c1c1c" stroke-width="0.3">(9)(0)()():12,466</text>
<text transform="translate(15.80,68.30) scale(0.689,1)" x="84.86 97.44 116.30" y="0" font-family="Liberation Sans" font-size="9.2" fill="#1c1c1c" text-anchor="middle" stroke="#1c1c1c" stroke-width="0.3">SAC</text>
<text transform="translate(15.80,68.30) scale(0.574,1)" x="109.38" y="0" font-family="Liberation Sans" font-size="9.2" fill="#1c1c1c" text-anchor="middle" stroke="#1c1c1c" stroke-width="0.3">M</text>
<text transform="translate(15.80,77.85) scale(0.820,1)" x="34.32 39.60 44.88 50.16 55.45 60.73 66.01 71.29 92.41 97.69 108.25 113.53 118.81 124.09 129.37 134.65 139.93 145.21" y="0" font-family="Liberation Sans" font-size="9.2" fill="#1c1c1c" text-anchor="middle" stroke="#1c1c1c" stroke-width="0.3">(26)(0)()():12,022</text>
<text transform="translate(15.80,77.85) scale(0.689,1)" x="91.15 103.72 122.58" y="0" font-family="Liberation Sans" font-size="9.2" fill="#1c1c1c" text-anchor="middle" stroke="#1c1c1c" stroke-width="0.3">SAC</text>
<text transform="translate(15.80,77.85) scale(0.574,1)" x="116.93" y="0" font-family="Liberation Sans" font-size="9.2" fill="#1c1c1c" text-anchor="middle" stroke="#1c1c1c" stroke-width="0.3">M</text>
<text transform="translate(15.80,87.40) scale(0.820,1)" x="34.32 39.60 44.88 50.16 55.45 60.73 66.01 71.29 92.41 97.69 108.25 113.53 118.81 124.09 129.37 134.65 139.93 145.21" y="0" font-family="Liberation Sans" font-size="9.2" fill="#1c1c1c" text-anchor="middle" stroke="#1c1c1c" stroke-width="0.3">(52)(0)()():11,849</text>
<text transform="translate(15.80,87.40) scale(0.689,1)" x="91.15 103.72 122.58" y="0" font-family="Liberation Sans" font-size="9.2" fill="#1c1c1c" text-anchor="middle" stroke="#1c1c1c" stroke-width="0.3">SAC</text>
<text transform="translate(15.80,87.40) scale(0.574,1)" x="116.93" y="0" font-family="Liberation Sans" font-size="9.2" fill="#1c1c1c" text-anchor="middle" stroke="#1c1c1c" stroke-width="0.3">M</text>
<text transform="translate(7.20,298.60) scale(0.820,1)" x="23.76 87.13" y="0" font-family="Liberation Sans" font-size="9.2" fill="#1c1c1c" text-anchor="middle" stroke="#1c1c1c" stroke-width="0.3">()</text>
<text transform="translate(7.20,298.60) scale(0.689,1)" x="9.43 15.72 22.00" y="0" font-family="Liberation Sans" font-size="9.2" fill="#1c1c1c" text-anchor="middle" stroke="#1c1c1c" stroke-width="0.3">ACD</text>
<text transform="translate(7.20,298.60) scale(0.574,1)" x="3.77" y="0" font-family="Liberation Sans" font-size="9.2" fill="#1c1c1c" text-anchor="middle" stroke="#1c1c1c" stroke-width="0.3">M</text>
<text transform="translate(15.60,308.00) scale(0.820,1)" x="23.76 29.04 34.32 39.60 44.88 50.16 55.45 60.73 66.01 76.57 81.85 87.13 92.41 97.69 102.97 108.25 113.53 118.81 124.09" y="0" font-family="Liberation Sans" font-size="9.2" fill="#1c1c1c" text-anchor="middle" stroke="#1c1c1c" stroke-width="0.3">(10)(20)():191.6523</text>
<text transform="translate(15.60,308.00) scale(0.689,1)" x="9.43 15.72 22.00 84.86" y="0" font-family="Liberation Sans" font-size="9.2" fill="#1c1c1c" text-anchor="middle" stroke="#1c1c1c" stroke-width="0.3">ACDC</text>
<text transform="translate(15.60,308.00) scale(0.574,1)" x="3.77" y="0" font-family="Liberation Sans" font-size="9.2" fill="#1c1c1c" text-anchor="middle" stroke="#1c1c1c" stroke-width="0.3">M</text>
<text transform="translate(15.60,317.80) scale(0.820,1)" x="44.88 50.16 55.45 60.73 66.01 71.29 76.57 81.85 87.13 92.41 97.69 102.97 108.25" y="0" font-family="Liberation Sans" font-size="9.2" fill="#1c1c1c" text-anchor="middle" stroke="#1c1c1c" stroke-width="0.3">(10):159.4489</text>
<text transform="translate(15.60,327.10) scale(0.820,1)" x="76.57 81.85 87.13 92.41 97.69 102.97 108.25 113.53" y="0" font-family="Liberation Sans" font-size="9.2" fill="#1c1c1c" text-anchor="middle" stroke="#1c1c1c" stroke-width="0.3">:32.2035</text>
<text transform="translate(15.60,327.10) scale(0.689,1)" x="9.43 15.72 22.00" y="0" font-family="Liberation Sans" font-size="9.2" fill="#1c1c1c" text-anchor="middle" stroke="#1c1c1c" stroke-width="0.3">ACD</text>
<text transform="translate(15.60,327.10) scale(0.574,1)" x="3.77" y="0" font-family="Liberation Sans" font-size="9.2" fill="#1c1c1c" text-anchor="middle" stroke="#1c1c1c" stroke-width="0.3">M</text>
<text transform="translate(7.20,521.00) scale(0.820,1)" x="34.32 97.69" y="0" font-family="Liberation Sans" font-size="9.2" fill="#1c1c1c" text-anchor="middle" stroke="#1c1c1c" stroke-width="0.3">()</text>
<text transform="translate(15.60,531.20) scale(0.820,1)" x="34.32 39.60 44.88 50.16 55.45 60.73" y="0" font-family="Liberation Sans" font-size="9.2" fill="#1c1c1c" text-anchor="middle" stroke="#1c1c1c" stroke-width="0.3">:17612</text>
<text transform="translate(15.60,540.40) scale(0.820,1)" x="76.57 81.85 87.13 92.41 113.53 118.81 124.09 129.37 134.65 139.93 145.21" y="0" font-family="Liberation Sans" font-size="9.2" fill="#1c1c1c" text-anchor="middle" stroke="#1c1c1c" stroke-width="0.3">(9)():30828</text>
<text transform="translate(15.60,540.40) scale(0.689,1)" x="116.30 128.87" y="0" font-family="Liberation Sans" font-size="9.2" fill="#1c1c1c" text-anchor="middle" stroke="#1c1c1c" stroke-width="0.3">SA</text>
<text transform="translate(15.60,540.40) scale(0.574,1)" x="147.10" y="0" font-family="Liberation Sans" font-size="9.2" fill="#1c1c1c" text-anchor="middle" stroke="#1c1c1c" stroke-width="0.3">M</text>
<text transform="translate(33.20,15.00) scale(0.900,1)" x="1.67" y="0" font-family="Liberation Sans" font-size="11.5" fill="#111" text-anchor="middle">[</text>
<text transform="translate(74.00,15.00) scale(0.900,1)" x="1.67" y="0" font-family="Liberation Sans" font-size="11.5" fill="#111" text-anchor="middle">]</text>
<text transform="translate(107.60,32.00) scale(0.800,1)" x="2.81 8.44 14.06" y="0" font-family="Liberation Sans" font-size="10.6" fill="#333" text-anchor="middle">100</text>
<text x="376.4" y="33.5" font-family="Liberation Sans" font-size="6" font-weight="bold" fill="#2a4a9a">1</text>
<text x="394.4" y="33.5" font-family="Liberation Sans" font-size="6" font-weight="bold" fill="#2a4a9a">2</text>
<text x="412.6" y="33.5" font-family="Liberation Sans" font-size="6" font-weight="bold" fill="#2a4a9a">3</text>
<text x="431.2" y="33.5" font-family="Liberation Sans" font-size="6" font-weight="bold" fill="#2a4a9a">4</text>
<text x="449.4" y="33.5" font-family="Liberation Sans" font-size="6" font-weight="bold" fill="#2a4a9a">5</text>
<text x="471.6" y="31.4" font-family="Liberation Sans" font-size="7" font-weight="bold" fill="#2860c8">R</text>
</g>
</svg>
</body></html>
